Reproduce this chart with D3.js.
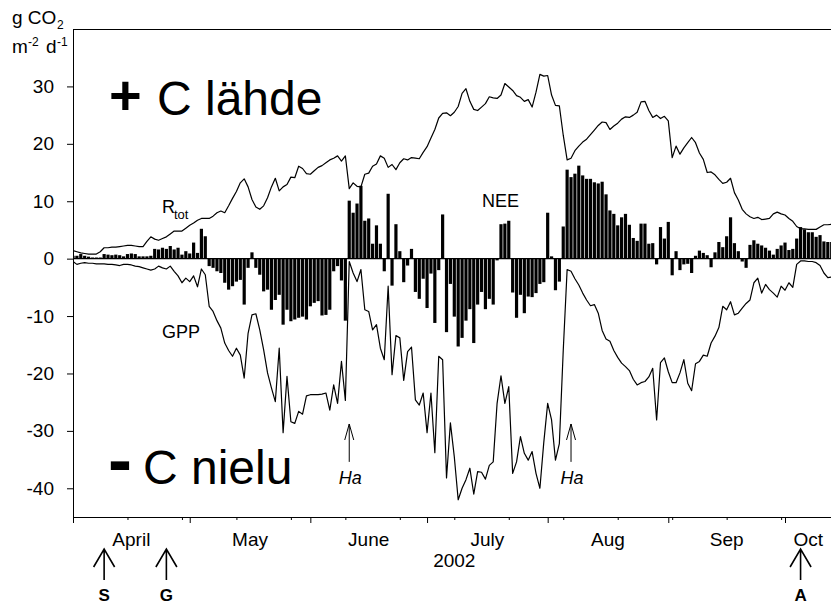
<!DOCTYPE html>
<html>
<head>
<meta charset="utf-8">
<script src="https://cdn.jsdelivr.net/npm/d3@7"></script>
<style>
  body { margin: 0; background: #fff; }
  svg { display: block; font-family: "Liberation Sans", Arial, sans-serif; }
</style>
</head>
<body>
<div id="chart"></div>
<script>
// daily values, day 0 = 1 April 2002, g CO2 m-2 d-1
const nee = [
  0.5, 0.5, 0.8, 0.5, 0.35, 0.2, 0.2, 0.2, 0.8, 0.7,
  0.6, 0.7, 0.6, 0.4, 0.8, 0.9, 0.8, 0.4, 0.4, 0.4,
  0.5, 1.7, 1.6, 1.9, 1.7, 2.2, 1.6, 1.9, 0.7, 1.3,
  0.9, 2.8, 1.0, 5.2, 3.9, -1.3, -1.6, -2.2, -2.5, -4.2,
  -5.4, -4.8, -4.0, -3.7, -8.0, -1.6, 1.1, -1.6, -2.8, -5.7,
  -5.4, -8.9, -7.2, -6.3, -11.5, -8.9, -10.9, -10.6, -10.3, -10.1,
  -10.6, -8.3, -7.7, -7.4, -9.9, -9.8, -8.9, -2.2, -1.3, -3.8,
  -10.8, 10.1, 8.0, 9.6, 12.7, 6.6, 7.0, 2.6, 5.8, 2.6,
  -2.2, 11.3, -4.7, 6.0, 1.3, -4.1, -1.2, 1.7, -5.8, -7.0,
  -3.5, -8.6, -2.6, -11.2, -2.0, 7.7, -12.8, -4.4, -10.1, -15.3,
  -13.8, -10.8, -8.8, -14.7, -8.0, -5.8, -8.8, -7.0, -8.0, -0.3,
  6.0, 6.1, 6.6, -5.9, -10.3, -6.3, -9.5, -6.6, -6.7, -6.0,
  -4.4, -4.1, 8.0, 0.4, -5.5, -4.0, 5.6, 15.5, 14.2, 14.8,
  16.2, 14.5, 13.9, 13.9, 13.3, 13.1, 13.4, 11.2, 8.4, 7.8,
  5.8, 7.2, 7.8, 5.9, 3.6, 3.1, 6.1, 6.1, 2.6, 2.7,
  -1.0, 5.5, 3.5, 6.4, -2.9, 1.3, -2.0, -1.0, -0.9, -2.5,
  0.5, 1.4, 1.0, 0.6, -1.5, 1.1, 2.9, 2.0, 3.9, 7.2,
  2.7, 1.3, -0.5, -1.6, 2.4, 3.2, 2.6, 2.3, 1.9, 1.4,
  0.7, 1.7, 2.3, 2.8, 1.5, 1.7, 3.5, 5.5, 5.1, 4.6,
  4.6, 3.8, 4.1, 3.0, 2.9, 2.9
];

const rtot = [
  1.4, 1.2, 1.0, 0.9, 0.8, 0.8, 0.8, 1.2, 1.9, 1.9,
  2.0, 2.0, 2.1, 2.2, 2.3, 2.3, 2.2, 2.1, 2.1, 3.0,
  3.8, 3.4, 3.2, 3.5, 3.8, 4.3, 4.8, 4.8, 4.8, 5.3,
  5.8, 6.2, 6.7, 7.0, 7.0, 7.0, 7.4, 8.0, 8.3, 8.0,
  9.2, 10.5, 11.7, 13.2, 13.9, 12.5, 10.3, 9.0, 8.6, 9.2,
  10.6, 12.5, 14.0, 11.8, 12.5, 12.9, 14.2, 14.1, 16.1, 15.7,
  14.8, 14.7, 15.3, 15.9, 16.2, 16.7, 17.2, 17.5, 17.9, 17.0,
  17.9, 12.2, 13.2, 12.6, 12.5, 14.7, 14.9, 16.1, 16.5, 17.9,
  17.5, 15.9, 16.4, 15.5, 16.7, 17.4, 17.2, 17.6, 17.5, 17.4,
  18.5, 19.5, 21.0, 22.5, 24.5, 25.3, 25.4, 24.9, 25.5, 26.5,
  28.8, 29.6, 27.4, 26.0, 25.8, 26.4, 27.0, 28.2, 28.0, 27.9,
  28.5, 30.5, 29.9, 29.3, 28.4, 28.1, 27.4, 27.7, 26.4, 29.0,
  32.1, 31.8, 31.9, 28.5, 26.7, 26.6, 21.5, 17.2, 17.5, 18.8,
  19.6, 20.3, 20.8, 21.6, 22.4, 23.2, 23.8, 23.7, 22.5, 23.1,
  23.6, 24.3, 24.7, 24.6, 25.0, 25.5, 27.3, 27.4, 25.8, 24.6,
  25.0, 24.4, 24.8, 24.0, 17.6, 19.6, 18.2, 19.3, 20.2, 21.1,
  20.2, 18.4, 17.3, 15.0, 15.1, 14.6, 13.8, 13.1, 13.3, 14.0,
  11.5, 10.2, 8.6, 7.8, 7.3, 7.0, 7.2, 6.8, 6.9, 7.0,
  7.8, 8.1, 7.8, 7.6, 7.0, 6.5, 5.6, 5.2, 5.2, 5.1,
  5.1, 5.1, 5.5, 5.9, 5.9, 6.0
];

const gpp = [
  -0.5, -1.0, -0.8, -0.7, -0.8, -0.8, -0.9, -0.9, -0.9, -1.0,
  -1.0, -1.1, -1.2, -1.0, -1.0, -1.1, -1.3, -1.4, -1.6, -1.8,
  -2.0, -1.8, -1.3, -1.6, -1.8, -1.3, -2.2, -3.0, -4.2, -3.4,
  -4.0, -3.0, -4.9, -1.8, -2.8, -8.3, -9.2, -10.8, -12.1, -14.7,
  -16.0, -17.0, -15.6, -16.8, -20.8, -13.0, -9.8, -9.6, -12.4, -15.9,
  -19.9, -22.5, -24.9, -15.6, -30.3, -20.5, -28.4, -28.7, -26.6, -27.1,
  -23.9, -23.7, -23.7, -23.7, -23.6, -23.4, -26.4, -22.0, -25.2, -17.9,
  -24.7, -0.5, -2.5, -4.0, -1.9, -8.9, -9.2, -12.4, -11.5, -15.6,
  -17.6, -4.8, -20.2, -13.4, -13.8, -21.2, -16.2, -15.4, -24.6, -25.5,
  -23.4, -30.3, -23.4, -33.8, -17.0, -17.6, -38.2, -28.6, -34.5, -42.0,
  -40.0, -38.5, -36.5, -41.0, -37.1, -37.2, -38.4, -36.0, -35.4, -25.2,
  -20.4, -25.2, -22.3, -37.4, -35.4, -31.0, -33.9, -35.1, -33.6, -37.4,
  -40.0, -32.0, -25.2, -28.1, -35.1, -32.2, -16.0, -1.9, -2.2, -3.5,
  -4.6, -6.0, -7.2, -8.2, -8.0, -9.5, -12.5, -14.0, -14.4, -16.0,
  -17.2, -18.2, -18.8, -19.5, -21.0, -22.0, -21.6, -21.4, -20.6, -19.1,
  -28.1, -18.1, -17.3, -19.7, -21.6, -21.6, -19.9, -17.6, -21.7, -23.0,
  -18.3, -17.9, -16.8, -17.0, -14.7, -13.5, -12.0, -8.3, -8.9, -7.5,
  -9.8, -9.5, -8.6, -7.8, -7.2, -4.2, -3.4, -6.0, -4.5, -5.4,
  -6.0, -6.7, -4.8, -5.5, -4.2, -5.0, -1.0, -0.4, -0.4, -0.5,
  -0.5, -0.7, -1.2, -2.5, -3.3, -3.2
];

const monthNames = ["April", "May", "June", "July", "Aug", "Sep", "Oct"];
const monthStarts = [0, 30, 61, 91, 122, 153, 183];
const yTicks = [-40, -30, -20, -10, 0, 10, 20, 30];
const harvestDays = [71, 128];
const events = [
  { label: "S", day: 8 },
  { label: "G", day: 24 },
  { label: "A", day: 187 }
];

const data = nee.map(function (v, i) {
  return { day: i, nee: v, rtot: rtot[i], gpp: gpp[i] };
});

const lastDay = 195;
const svg = d3
  .select("#chart")
  .append("svg")
  .attr("width", 831)
  .attr("height", 605);

const x = d3.scaleLinear().domain([0, lastDay]).range([73, 831.7]);
const y = d3.scaleLinear().domain([-45, 40]).range([517, 29]);

svg
  .append("clipPath")
  .attr("id", "plot")
  .append("rect")
  .attr("x", 73)
  .attr("y", 29)
  .attr("width", 800)
  .attr("height", 488);

const plot = svg.append("g").attr("clip-path", "url(#plot)");

// NEE bars
const step = x(1) - x(0);
plot
  .append("g")
  .selectAll("rect")
  .data(data)
  .join("rect")
  .attr("x", function (d) { return x(d.day) - (step - 0.7) / 2; })
  .attr("width", step - 0.7)
  .attr("y", function (d) { return y(Math.max(0, d.nee)); })
  .attr("height", function (d) { return Math.abs(y(d.nee) - y(0)); })
  .attr("fill", "#000");

// zero line
plot
  .append("line")
  .attr("x1", x(0))
  .attr("x2", x(lastDay))
  .attr("y1", y(0))
  .attr("y2", y(0))
  .attr("stroke", "#000")
  .attr("stroke-width", 1.3);

// Rtot and GPP lines
["rtot", "gpp"].forEach(function (key) {
  plot
    .append("path")
    .datum(data)
    .attr("fill", "none")
    .attr("stroke", "#000")
    .attr("stroke-width", 1.2)
    .attr("stroke-linejoin", "round")
    .attr("d", d3.line()
      .x(function (d) { return x(d.day); })
      .y(function (d) { return y(d[key]); }));
});

// Y axis
svg
  .append("g")
  .attr("transform", "translate(73,0)")
  .call(
    d3.axisLeft(y)
      .tickValues(yTicks)
      .tickSize(6)
      .tickSizeOuter(0)
      .tickPadding(13)
      .tickFormat(function (d) { return d; })
  )
  .call(function (g) {
    g.selectAll("text")
      .attr("font-size", 19)
      .attr("font-family", "Liberation Sans, Arial, sans-serif")
      .attr("fill", "#000");
  });

// X axis: month ticks and two-week minor ticks
svg
  .append("g")
  .attr("transform", "translate(0,517)")
  .call(d3.axisBottom(x).tickValues(monthStarts).tickSize(6).tickSizeOuter(0).tickFormat(""));
svg
  .append("g")
  .attr("transform", "translate(0,517)")
  .call(d3.axisBottom(x).tickValues(d3.range(14, lastDay, 14)).tickSize(3).tickSizeOuter(0).tickFormat(""))
  .call(function (g) { g.select(".domain").remove(); });

// top frame
svg
  .append("line")
  .attr("x1", 73)
  .attr("x2", 831.7)
  .attr("y1", 29.5)
  .attr("y2", 29.5)
  .attr("stroke", "#000");

// month labels
svg
  .append("g")
  .selectAll("text")
  .data(monthNames)
  .join("text")
  .attr("x", function (d, i) {
    const end = i < monthStarts.length - 1 ? monthStarts[i + 1] : lastDay;
    return x((monthStarts[i] + end) / 2);
  })
  .attr("y", 546)
  .attr("text-anchor", "middle")
  .attr("font-size", 19)
  .text(function (d) { return d; });

svg
  .append("text")
  .attr("x", x(98))
  .attr("y", 567)
  .attr("text-anchor", "middle")
  .attr("font-size", 19)
  .text("2002");

// y axis unit
svg.append("text").attr("x", 12).attr("y", 24).attr("font-size", 19).text("g CO");
svg.append("text").attr("x", 57).attr("y", 29).attr("font-size", 12).text("2");
svg.append("text").attr("x", 12).attr("y", 53).attr("font-size", 19).text("m");
svg.append("text").attr("x", 28).attr("y", 46).attr("font-size", 12).text("-2");
svg.append("text").attr("x", 46).attr("y", 53).attr("font-size", 19).text("d");
svg.append("text").attr("x", 57).attr("y", 46).attr("font-size", 12).text("-1");

// big source / sink labels
svg.append("text").attr("x", 109).attr("y", 114).attr("font-size", 56).attr("font-weight", "bold").text("+");
svg.append("text").attr("x", 157).attr("y", 115).attr("font-size", 48).text("C lähde");
svg.append("text").attr("x", 108).attr("y", 484).attr("font-size", 72).attr("font-weight", "bold").text("-");
svg.append("text").attr("x", 143).attr("y", 484).attr("font-size", 48).text("C nielu");

// series labels
svg.append("text").attr("x", 162).attr("y", 213).attr("font-size", 18).text("R");
svg.append("text").attr("x", 174).attr("y", 219).attr("font-size", 13).text("tot");
svg.append("text").attr("x", 162).attr("y", 338).attr("font-size", 18).text("GPP");
svg.append("text").attr("x", 482).attr("y", 207).attr("font-size", 18).text("NEE");

// harvest arrows
function arrow(g, x0, yTip, yTail, hw, hh, sw) {
  g.append("path")
    .attr("d", "M" + x0 + "," + yTail + "V" + yTip +
      "M" + (x0 - hw) + "," + (yTip + hh) + "L" + x0 + "," + yTip + "L" + (x0 + hw) + "," + (yTip + hh))
    .attr("fill", "none")
    .attr("stroke", "#000")
    .attr("stroke-width", sw);
}

harvestDays.forEach(function (d) {
  const g = svg.append("g");
  arrow(g, x(d), y(-28.8), y(-35.4), 4.5, 16, 1);
  g.append("text")
    .attr("x", x(d) + 1)
    .attr("y", 484)
    .attr("text-anchor", "middle")
    .attr("font-size", 18)
    .attr("font-style", "italic")
    .text("Ha");
});

events.forEach(function (e) {
  const g = svg.append("g");
  arrow(g, x(e.day), 549, 580, 10.5, 18, 1.6);
  g.append("text")
    .attr("x", x(e.day))
    .attr("y", 601)
    .attr("text-anchor", "middle")
    .attr("font-size", 17)
    .attr("font-weight", "bold")
    .text(e.label);
});
</script>
</body>
</html>
